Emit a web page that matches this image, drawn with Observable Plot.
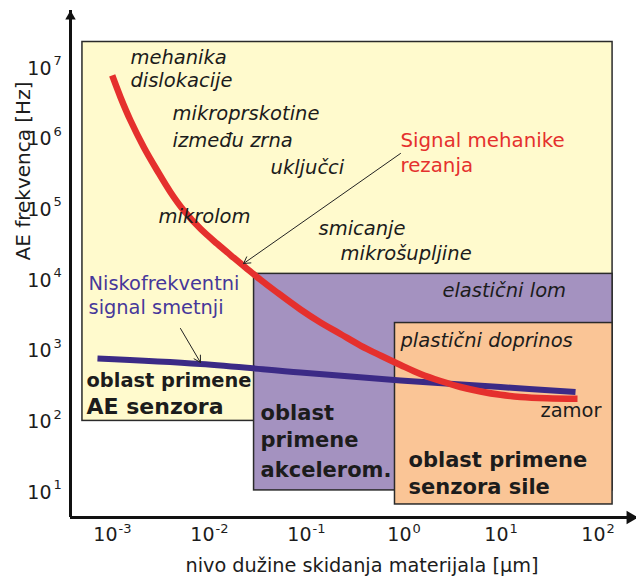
<!DOCTYPE html>
<html>
<head>
<meta charset="utf-8">
<script src="https://cdn.jsdelivr.net/npm/d3@7"></script>
<script src="https://cdn.jsdelivr.net/npm/@observablehq/plot@0.6"></script>
<style>
  body { margin: 0; background: #fff; }
</style>
</head>
<body>
<div id="chart"></div>
<script>
// ---- Data (x in µm, y in Hz) ----
const xDomain = [10 ** -3.433, 10 ** 2.402];
const yDomain = [10 ** 0.6462, 10 ** 7.8205];

const xTickExponents = [-3, -2, -1, 0, 1, 2];
const yTickExponents = [1, 2, 3, 4, 5, 6, 7];

// application regions
const regionAE    = [{x1: 4.9e-4, x2: 143, y1: 103,  y2: 2.37e7}];
const regionAccel = [{x1: 0.0288, x2: 143, y1: 10.7, y2: 12400}];
const regionForce = [{x1: 0.817,  x2: 143, y1: 6.77, y2: 2500}];

// signal of cutting mechanics
const signalX = [9.93e-4, 1.209e-3, 1.533e-3, 2.102e-3, 2.889e-3, 3.963e-3, 5.433e-3, 8.075e-3, 0.01201, 0.01780, 0.02447, 0.03356, 0.04987, 0.08671, 0.1394, 0.2241, 0.3603, 0.5793, 0.9314, 1.497, 2.407, 3.869, 6.222, 10.0, 16.08, 30.29, 62.2];
const signalY = [7.96e6, 3.924e6, 1.836e6, 7.692e5, 3.601e5, 1.775e5, 9.78e4, 5.387e4, 3.305e4, 2.095e4, 1.459e4, 1.026e4, 6762, 3886, 2544, 1749, 1202, 868, 637, 475, 378, 311, 269, 241, 224.5, 215.3, 211.8];

// low-frequency noise signal
const noiseX = [7.0e-4, 8.075e-3, 0.08671, 0.9314, 10.0, 59.33];
const noiseY = [787, 658, 499, 384.5, 311, 264];

// annotation arrows
const arrows = [
  {x1: 0.931,   y1: 6.27e5, x2: 0.02245, y2: 17380},
  {x1: 5.02e-3, y1: 2094,   x2: 8.07e-3, y2: 692}
];

// labels
const mechanismLabels = [
  {text: "mehanika",           x: 1.53e-3, y: 1.43e7},
  {text: "dislokacije",        x: 1.53e-3, y: 6.76e6},
  {text: "mikroprskotine",     x: 4.16e-3, y: 2.31e6},
  {text: "između zrna",        x: 4.16e-3, y: 9.57e5},
  {text: "uključci",           x: 0.0426,  y: 3.97e5},
  {text: "mikrolom",           x: 2.98e-3, y: 8.05e4},
  {text: "smicanje",           x: 0.133,   y: 5.45e4},
  {text: "mikrošupljine",      x: 0.224,   y: 2.41e4},
  {text: "elastični lom",      x: 2.52,    y: 7210},
  {text: "plastični doprinos", x: 0.931,   y: 1416}
];
const signalLabel = [
  {text: "Signal mehanike", x: 0.931, y: 9.57e5},
  {text: "rezanja",         x: 0.931, y: 4.24e5}
];
const noiseLabel = [
  {text: "Niskofrekventni", x: 5.66e-4, y: 9060},
  {text: "signal smetnji",  x: 5.66e-4, y: 4150}
];
const aeLabel1 = [{text: "oblast primene", x: 5.40e-4, y: 385}];
const aeLabel2 = [{text: "AE senzora",     x: 5.40e-4, y: 160}];
const accelLabel = [
  {text: "oblast",     x: 0.0336, y: 131},
  {text: "primene",    x: 0.0336, y: 54.5},
  {text: "akcelerom.", x: 0.0336, y: 20.5}
];
const forceLabel = [
  {text: "oblast primene", x: 1.127, y: 28.4},
  {text: "senzora sile",   x: 1.127, y: 11.8}
];
const fatigueLabel = [{text: "zamor", x: 25.8, y: 145}];

const xAxisLabel = "nivo dužine skidanja materijala [μm]";
const yAxisLabel = "AE frekvenca [Hz]";

// ---- Build ----
const signal = signalX.map((x, i) => ({x, y: signalY[i]}));
const noise = noiseX.map((x, i) => ({x, y: noiseY[i]}));
const xNeg = xTickExponents.filter(e => e < 0);
const xPos = xTickExponents.filter(e => e >= 0);

const ink = "#1c1c1c";
const ff = "DejaVu Sans";

const chart = Plot.plot({
  width: 636,
  height: 584,
  marginLeft: 70,
  marginRight: 0,
  marginTop: 10,
  marginBottom: 67,
  style: {fontFamily: ff, background: "white", overflow: "visible"},
  x: {type: "log", domain: xDomain, axis: null},
  y: {type: "log", domain: yDomain, axis: null},
  marks: [
    Plot.rect(regionAE,    {x1: "x1", x2: "x2", y1: "y1", y2: "y2", fill: "#fffacd", stroke: "#2a2a2a", strokeWidth: 1.5}),
    Plot.rect(regionAccel, {x1: "x1", x2: "x2", y1: "y1", y2: "y2", fill: "#a492c0", stroke: "#2a2a2a", strokeWidth: 1.5}),
    Plot.rect(regionForce, {x1: "x1", x2: "x2", y1: "y1", y2: "y2", fill: "#fac596", stroke: "#2a2a2a", strokeWidth: 1.5}),

    Plot.line(noise,  {x: "x", y: "y", stroke: "#3b2a86", strokeWidth: 6, curve: "catmull-rom", strokeLinecap: "butt"}),
    Plot.line(signal, {x: "x", y: "y", stroke: "#e5302d", strokeWidth: 6.5, curve: "catmull-rom", strokeLinecap: "butt"}),

    Plot.arrow(arrows, {x1: "x1", y1: "y1", x2: "x2", y2: "y2", stroke: "#222", strokeWidth: 1, headLength: 11}),

    // axes
    Plot.ruleX([xDomain[0]], {stroke: "#111", strokeWidth: 3}),
    Plot.ruleY([yDomain[0]], {stroke: "#111", strokeWidth: 3}),
    Plot.dot([0], {x: () => xDomain[0], y: () => yDomain[1], symbol: "triangle2", r: 5, fill: "#111", stroke: "none", dy: 6}),
    Plot.dot([0], {x: () => xDomain[1], y: () => yDomain[0], symbol: "triangle2", r: 6.5, fill: "#111", stroke: "none", rotate: 90, dx: -6}),

    // tick labels
    Plot.text(yTickExponents, {y: d => 10 ** d, text: () => "10", frameAnchor: "left", dx: -19, textAnchor: "end", fontSize: 19, fill: ink}),
    Plot.text(yTickExponents, {y: d => 10 ** d, text: d => String(d), frameAnchor: "left", dx: -17, dy: -7.5, textAnchor: "start", fontSize: 13, fill: ink}),
    Plot.text(xNeg, {x: d => 10 ** d, text: () => "10", frameAnchor: "bottom", dx: 5, dy: 23, textAnchor: "end", fontSize: 19, fill: ink}),
    Plot.text(xNeg, {x: d => 10 ** d, text: d => "-" + Math.abs(d), frameAnchor: "bottom", dx: 6, dy: 15, textAnchor: "start", fontSize: 13, fill: ink}),
    Plot.text(xPos, {x: d => 10 ** d, text: () => "10", frameAnchor: "bottom", dx: 8, dy: 23, textAnchor: "end", fontSize: 19, fill: ink}),
    Plot.text(xPos, {x: d => 10 ** d, text: d => String(d), frameAnchor: "bottom", dx: 9, dy: 15, textAnchor: "start", fontSize: 13, fill: ink}),

    // axis titles
    Plot.text([xAxisLabel], {frameAnchor: "bottom", dx: 8.5, dy: 54, text: d => d, fontSize: 19.3, fill: ink}),
    Plot.text([yAxisLabel], {frameAnchor: "left", dx: -47, dy: -3.5, rotate: -90, text: d => d, fontSize: 20, fill: ink}),

    // annotations
    Plot.text(mechanismLabels, {x: "x", y: "y", text: "text", textAnchor: "start", fontSize: 19.5, fontStyle: "italic", fill: ink}),
    Plot.text(signalLabel, {x: "x", y: "y", text: "text", textAnchor: "start", fontSize: 19.8, fill: "#e5302d"}),
    Plot.text(noiseLabel, {x: "x", y: "y", text: "text", textAnchor: "start", fontSize: 19.4, fill: "#46379a"}),
    Plot.text(aeLabel1, {x: "x", y: "y", text: "text", textAnchor: "start", fontSize: 19.4, fontWeight: "bold", fill: ink}),
    Plot.text(aeLabel2, {x: "x", y: "y", text: "text", textAnchor: "start", fontSize: 22, fontWeight: "bold", fill: ink}),
    Plot.text(accelLabel, {x: "x", y: "y", text: "text", textAnchor: "start", fontSize: 21, fontWeight: "bold", fill: ink}),
    Plot.text(forceLabel, {x: "x", y: "y", text: "text", textAnchor: "start", fontSize: 21, fontWeight: "bold", fill: ink}),
    Plot.text(fatigueLabel, {x: "x", y: "y", text: "text", textAnchor: "start", fontSize: 19.5, fill: ink})
  ]
});
document.getElementById("chart").append(chart);
</script>
</body>
</html>
